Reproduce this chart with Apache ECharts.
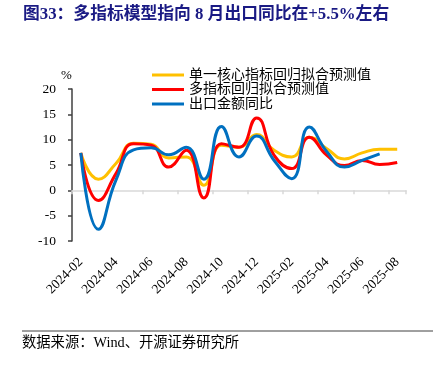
<!DOCTYPE html>
<html>
<head>
<meta charset="utf-8">
<script src="https://cdn.jsdelivr.net/npm/echarts@6/dist/echarts.min.js"></script>
<style>
html,body{margin:0;padding:0;background:#fff;}
#c{width:444px;height:373px;}
</style>
</head>
<body>
<div id="c"></div>
<script>
const months = ['2024-02','2024-03','2024-04','2024-05','2024-06','2024-07','2024-08','2024-09','2024-10','2024-11','2024-12','2025-01','2025-02','2025-03','2025-04','2025-05','2025-06','2025-07','2025-08'];
const singleModel = [7.4, 2.2, 5.3, 9.3, 9.1, 6.4, 6.6, 1.0, 8.9, 8.5, 11.0, 7.9, 6.6, 10.5, 8.2, 6.2, 7.4, 8.1, 8.1];
const multiModel = [7.4, -2.0, 3.3, 9.2, 8.9, 4.6, 7.9, -1.5, 9.2, 8.5, 14.3, 6.9, 4.3, 10.5, 6.9, 4.9, 5.9, 5.1, 5.5];
const exportYoY = [7.4, -7.7, 2.0, 8.0, 8.4, 7.0, 8.5, 2.2, 12.6, 6.6, 10.7, 5.9, 2.3, 12.5, 7.6, 4.6, 5.9, 7.2];
const seriesNames = ['单一核心指标回归拟合预测值','多指标回归拟合预测值','出口金额同比'];
const titleText = '图33：多指标模型指向 8 月出口同比在+5.5%左右';
const sourceText = '数据来源：Wind、开源证券研究所';

const serif = '"Liberation Serif", "Noto Sans CJK SC", serif';
const chart = echarts.init(document.getElementById('c'), null, {renderer:'canvas'});
const lineSeries = (name, data, color) => ({
  name, type:'line', data, smooth:0.5, showSymbol:false, symbol:'none',
  xAxisIndex:0, yAxisIndex:0,
  lineStyle:{color, width:3}, itemStyle:{color}
});
chart.setOption({
  animation:false,
  grid:{left:72, right:38, top:89, bottom:132, containLabel:false},
  legend:{
    orient:'vertical', left:152, top:68, itemWidth:32, itemHeight:3, itemGap:0.5,
    padding:0, icon:'rect',
    textStyle:{fontFamily:serif, fontSize:14, color:'#000'},
    data:seriesNames
  },
  xAxis:[
    {type:'category', data:months, boundaryGap:true, position:'bottom',
     axisLine:{show:false, onZero:false}, axisTick:{show:false},
     axisLabel:{interval:1, rotate:45, margin:19, fontFamily:serif, fontSize:13.5, color:'#000'}},
    {type:'category', data:months, boundaryGap:true, position:'top',
     axisLine:{show:true, onZero:true, lineStyle:{color:'#d9d9d9', width:1.5}},
     axisTick:{show:true, inside:true, interval:1, length:4, lineStyle:{color:'#d9d9d9', width:1.5}},
     axisLabel:{show:false}}
  ],
  yAxis:{type:'value', min:-10, max:20, interval:5,
    axisLine:{show:true, onZero:false, lineStyle:{color:'#404040', width:1.5}},
    axisTick:{show:true, length:4, lineStyle:{color:'#404040', width:1.5}},
    splitLine:{show:false},
    axisLabel:{margin:16, fontFamily:serif, fontSize:13.5, color:'#000'}},
  graphic:[
    {type:'text', left:23, top:6, style:{text:titleText, font:'bold 16.8px "Liberation Serif", "Noto Sans CJK SC"', fill:'#1a1a84'}},
    {type:'text', left:61, top:69, style:{text:'%', font:'13px "Liberation Serif"', fill:'#000'}},
    {type:'line', shape:{x1:22, y1:331, x2:433, y2:331}, style:{stroke:'#404040', lineWidth:1}},
    {type:'text', left:22, top:336, style:{text:sourceText, font:'14.3px "Liberation Serif", "Noto Sans CJK SC"', fill:'#000'}}
  ],
  series:[
    lineSeries(seriesNames[0], singleModel, '#FFC000'),
    lineSeries(seriesNames[1], multiModel, '#FF0000'),
    lineSeries(seriesNames[2], exportYoY, '#0070C0')
  ]
});
</script>
</body>
</html>
